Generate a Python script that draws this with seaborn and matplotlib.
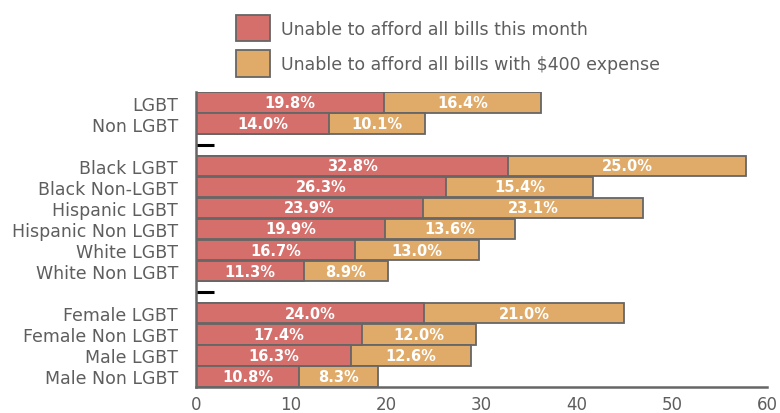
import numpy as np
import pandas as pd
import seaborn as sns
import matplotlib.pyplot as plt
from matplotlib.patches import Patch

# Row order, with blank spacer rows between the three groups
categories = ["LGBT", "Non LGBT", " ",
              "Black LGBT", "Black Non-LGBT", "Hispanic LGBT", "Hispanic Non LGBT",
              "White LGBT", "White Non LGBT", "  ",
              "Female LGBT", "Female Non LGBT", "Male LGBT", "Male Non LGBT"]

groups = ["LGBT", "Non LGBT",
          "Black LGBT", "Black Non-LGBT", "Hispanic LGBT", "Hispanic Non LGBT",
          "White LGBT", "White Non LGBT",
          "Female LGBT", "Female Non LGBT", "Male LGBT", "Male Non LGBT"]
this_month = [19.8, 14.0, 32.8, 26.3, 23.9, 19.9, 16.7, 11.3, 24.0, 17.4, 16.3, 10.8]
with_400 = [16.4, 10.1, 25.0, 15.4, 23.1, 13.6, 13.0, 8.9, 21.0, 12.0, 12.6, 8.3]

series_names = ["Unable to afford all bills this month",
                "Unable to afford all bills with $400 expense"]
xticks = [0, 10, 20, 30, 40, 50, 60]

RED = "#d46f6b"
ORANGE = "#e0ab69"
EDGE = "#666666"
TEXT = "#5e5e5e"

df = pd.DataFrame({"group": groups,
                   "month": this_month,
                   "extra": with_400})
df["total"] = df["month"] + df["extra"]

sns.set_theme(style="white")
plt.rcParams["font.family"] = ["DejaVu Sans"]

fig = plt.figure(figsize=(7.8, 4.14), dpi=100)
ax = fig.add_axes([196 / 780, 1 - 388 / 414, (767 - 196) / 780, (388 - 93) / 414])

# Stacked bars: full total in orange, the first segment in red on top
sns.barplot(data=df, y="group", x="total", order=categories, orient="h",
            color=ORANGE, saturation=1, width=0.97, edgecolor=EDGE,
            linewidth=1.3, ax=ax)
sns.barplot(data=df, y="group", x="month", order=categories, orient="h",
            color=RED, saturation=1, width=0.97, edgecolor=EDGE,
            linewidth=1.3, ax=ax)

pos = {c: i for i, c in enumerate(categories)}
for g, m, e in zip(groups, this_month, with_400):
    y = pos[g]
    ax.text(m / 2, y, f"{m:.1f}%", ha="center", va="center", color="white",
            fontsize=10.5, fontweight="bold")
    ax.text(m + e / 2, y, f"{e:.1f}%", ha="center", va="center", color="white",
            fontsize=10.5, fontweight="bold")

ax.set_xlim(0, 60)
ax.set_ylim(len(categories) - 0.5, -0.5)
ax.set_xticks(xticks)
ax.set_xticklabels([str(t) for t in xticks])
ax.set_xlabel("")
ax.set_ylabel("")
ax.set_axisbelow(True)

ax.tick_params(axis="y", which="major", length=0, labelsize=12.5,
               labelcolor=TEXT, pad=13)
ax.tick_params(axis="x", which="major", direction="in", length=6, width=1.5,
               color=EDGE, labelsize=12, labelcolor=TEXT, pad=6)
# Short markers on the spacer rows
ax.yaxis.remove_overlapping_locs = False
ax.set_yticks([pos[" "], pos["  "]], minor=True)
ax.tick_params(axis="y", which="minor", direction="in", length=13, width=2.2,
               color="black", left=True)

for side in ["top", "right"]:
    ax.spines[side].set_visible(False)
for side in ["left", "bottom"]:
    ax.spines[side].set_color(EDGE)
    ax.spines[side].set_linewidth(1.8)

handles = [Patch(facecolor=RED, edgecolor=EDGE, linewidth=1.3),
           Patch(facecolor=ORANGE, edgecolor=EDGE, linewidth=1.3)]
leg = fig.legend(handles, series_names, loc="upper left",
                 bbox_to_anchor=(220 / 780, 1 - 0 / 414), frameon=False,
                 fontsize=12.5, handlelength=2.0, handleheight=2.0,
                 handletextpad=0.6, labelspacing=0.5)
for t in leg.get_texts():
    t.set_color(TEXT)

fig.savefig("out.png", dpi=100)
